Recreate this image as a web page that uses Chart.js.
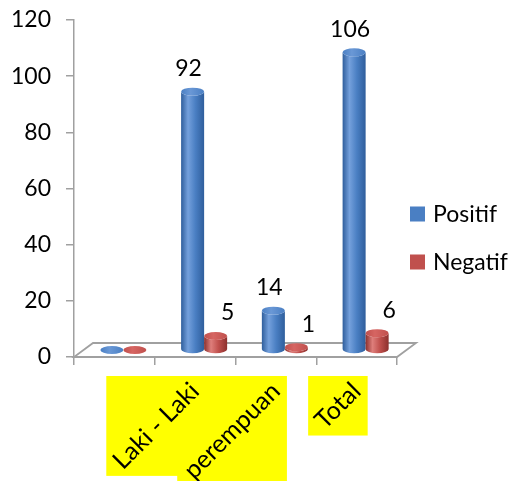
<!DOCTYPE html>
<html>
<head>
<meta charset="utf-8">
<script src="https://cdn.jsdelivr.net/npm/chart.js@4.4.1/dist/chart.umd.min.js"></script>
<style>
  html, body { margin: 0; padding: 0; background: #ffffff; }
  #wrap { width: 512px; height: 481px; }
</style>
</head>
<body>
<div id="wrap"><canvas id="chart" width="512" height="481"></canvas></div>
<script>
// Data
const categories = ['', 'Laki - Laki', 'perempuan', 'Total'];
const positif = [0, 92, 14, 106];
const negatif = [0, 5, 1, 6];
const seriesNames = ['Positif', 'Negatif'];
const yTickValues = [0, 20, 40, 60, 80, 100, 120];

// Styling
const FONT_FAMILY = 'Lato';
const FONT_SIZE = 23;
const CAT_FONT_SIZE = 25;
const AXIS_GREY = '#a0a0a0';
const FLOOR_DEPTH = { dx: 19, dy: -14 };      // back edge of the floor vs. front edge
const BAR_SHIFT = { dx: 9, dy: -7 };           // columns stand half way into the floor
const ELLIPSE_RY = 4;
const LABEL_LIFT = 23;
const LABEL_SHIFT = [-4, 12];
const LEGEND = { x: 410, y: 214, gap: 48, box: 15, textGap: 8 };

const palettes = [
  { base: '#4a7fc3', light: '#74a0dc', dark: '#2f5e9c', top: '#6a98d6' },
  { base: '#c0504d', light: '#de7e7b', dark: '#8c302d', top: '#d66562' }
];

function bodyGradient(ctx, x0, x1, pal) {
  const g = ctx.createLinearGradient(x0, 0, x1, 0);
  g.addColorStop(0, pal.dark);
  g.addColorStop(0.3, pal.light);
  g.addColorStop(0.62, pal.base);
  g.addColorStop(1, pal.dark);
  return g;
}

function topGradient(ctx, x0, x1, pal) {
  const g = ctx.createLinearGradient(x0, 0, x1, 0);
  g.addColorStop(0, pal.base);
  g.addColorStop(0.4, pal.top);
  g.addColorStop(1, pal.base);
  return g;
}

// Yellow boxes behind the rotated category labels (axis-aligned bounds of each rotated label)
const labelHighlight = {
  id: 'labelHighlight',
  beforeDraw(chart) {
    const scale = chart.scales.x;
    const ctx = chart.ctx;
    const items = scale.getLabelItems();
    ctx.save();
    ctx.fillStyle = '#ffff00';
    items.forEach(item => {
      const text = Array.isArray(item.label) ? item.label.join(' ') : String(item.label);
      if (!text) return;
      const o = item.options;
      ctx.font = item.font.string;
      const w = ctx.measureText(text).width;
      const h = item.font.lineHeight;
      let x0, x1, y0, y1;
      if (o.textAlign === 'right') { x0 = -w; x1 = 0; }
      else if (o.textAlign === 'center') { x0 = -w / 2; x1 = w / 2; }
      else { x0 = 0; x1 = w; }
      const t = item.textOffset;
      if (o.textBaseline === 'middle') { y0 = t - h / 2; y1 = t + h / 2; }
      else if (o.textBaseline === 'bottom') { y0 = t - h; y1 = t; }
      else { y0 = t; y1 = t + h; }
      const r = o.rotation || 0;
      const c = Math.cos(r), s = Math.sin(r);
      const [tx, ty] = o.translation;
      const pts = [[x0, y0], [x1, y0], [x1, y1], [x0, y1]].map(([px, py]) => [tx + px * c - py * s, ty + px * s + py * c]);
      const xs = pts.map(p => p[0]), ys = pts.map(p => p[1]);
      const minX = Math.min(...xs), maxX = Math.max(...xs), minY = Math.min(...ys), maxY = Math.max(...ys);
      ctx.fillRect(minX, minY, maxX - minX, maxY - minY);
    });
    ctx.restore();
  }
};

// Floor slab under the columns
const floor = {
  id: 'floor',
  beforeDatasetsDraw(chart) {
    const { left, right, bottom } = chart.chartArea;
    const ctx = chart.ctx;
    ctx.save();
    ctx.beginPath();
    ctx.moveTo(left, bottom);
    ctx.lineTo(right, bottom);
    ctx.lineTo(right + FLOOR_DEPTH.dx, bottom + FLOOR_DEPTH.dy);
    ctx.lineTo(left + FLOOR_DEPTH.dx, bottom + FLOOR_DEPTH.dy);
    ctx.closePath();
    ctx.fillStyle = '#ffffff';
    ctx.fill();
    ctx.strokeStyle = AXIS_GREY;
    ctx.lineWidth = 1.8;
    ctx.stroke();
    ctx.restore();
  }
};

// Cylindrical columns and their value labels
const cylinders = {
  id: 'cylinders',
  beforeDatasetDraw() { return false; },
  afterDatasetsDraw(chart) {
    const ctx = chart.ctx;
    const metas = chart.data.datasets.map((d, i) => chart.getDatasetMeta(i));
    const n = chart.data.labels.length;
    for (let i = 0; i < n; i++) {
      metas.forEach((meta, di) => {
        const bar = meta.data[i];
        const p = bar.getProps(['x', 'y', 'base', 'width'], true);
        const pal = palettes[di];
        const cx = p.x + BAR_SHIFT.dx;
        const top = p.y + BAR_SHIFT.dy;
        const bottom = p.base + BAR_SHIFT.dy;
        const rx = p.width / 2;
        const ry = ELLIPSE_RY;
        ctx.save();
        if (bottom - top > 0.5) {
          ctx.beginPath();
          ctx.moveTo(cx - rx, top);
          ctx.lineTo(cx - rx, bottom);
          ctx.ellipse(cx, bottom, rx, ry, 0, Math.PI, 0, true);
          ctx.lineTo(cx + rx, top);
          ctx.ellipse(cx, top, rx, ry, 0, 0, Math.PI, false);
          ctx.closePath();
          ctx.fillStyle = bodyGradient(ctx, cx - rx, cx + rx, pal);
          ctx.fill();
        }
        ctx.beginPath();
        ctx.ellipse(cx, top, rx, ry, 0, 0, Math.PI * 2);
        ctx.fillStyle = topGradient(ctx, cx - rx, cx + rx, pal);
        ctx.fill();
        ctx.restore();
      });
    }
    // value labels
    ctx.save();
    ctx.font = FONT_SIZE + 'px ' + FONT_FAMILY;
    ctx.fillStyle = '#000000';
    ctx.textAlign = 'center';
    ctx.textBaseline = 'middle';
    metas.forEach((meta, di) => {
      const values = chart.data.datasets[di].data;
      meta.data.forEach((bar, i) => {
        if (!chart.data.labels[i]) return;
        const p = bar.getProps(['x', 'y'], true);
        ctx.fillText(String(values[i]), p.x + BAR_SHIFT.dx + LABEL_SHIFT[di], p.y + BAR_SHIFT.dy - LABEL_LIFT);
      });
    });
    ctx.restore();
  }
};

// Legend on the right
const sideLegend = {
  id: 'sideLegend',
  afterDraw(chart) {
    const ctx = chart.ctx;
    ctx.save();
    ctx.font = FONT_SIZE + 'px ' + FONT_FAMILY;
    ctx.textBaseline = 'middle';
    ctx.textAlign = 'left';
    chart.data.datasets.forEach((ds, i) => {
      const cy = LEGEND.y + i * LEGEND.gap;
      ctx.fillStyle = palettes[i].base;
      ctx.fillRect(LEGEND.x, cy - LEGEND.box / 2, LEGEND.box, LEGEND.box);
      ctx.fillStyle = '#000000';
      ctx.fillText(ds.label, LEGEND.x + LEGEND.box + LEGEND.textGap, cy + 1);
    });
    ctx.restore();
  }
};

new Chart(document.getElementById('chart'), {
  type: 'bar',
  data: {
    labels: categories,
    datasets: [
      { label: seriesNames[0], data: positif, backgroundColor: palettes[0].base },
      { label: seriesNames[1], data: negatif, backgroundColor: palettes[1].base }
    ]
  },
  options: {
    responsive: false,
    animation: false,
    devicePixelRatio: 1,
    categoryPercentage: 0.57,
    barPercentage: 1,
    layout: { padding: { top: 20, right: 115, left: 0, bottom: 0 } },
    plugins: {
      legend: { display: false },
      tooltip: { enabled: false }
    },
    scales: {
      x: {
        grid: { display: true, drawOnChartArea: false, drawTicks: true, tickLength: 8, color: AXIS_GREY, lineWidth: 1.5, offset: true },
        border: { display: false },
        ticks: {
          autoSkip: false, minRotation: 45, maxRotation: 45, padding: 11,
          color: '#000000', font: { family: FONT_FAMILY, size: CAT_FONT_SIZE, lineHeight: 1.25 }
        },
        afterFit(scale) {
          scale.height = 124;
          scale.paddingLeft = 0;
          scale.paddingRight = 0;
        }
      },
      y: {
        min: 0, max: 120,
        afterBuildTicks(scale) { scale.ticks = yTickValues.map(v => ({ value: v })); },
        grid: { display: true, drawOnChartArea: false, drawTicks: true, tickLength: 8, color: AXIS_GREY, lineWidth: 1.5 },
        border: { display: true, color: AXIS_GREY, width: 1.5 },
        ticks: { padding: 15, color: '#000000', font: { family: FONT_FAMILY, size: FONT_SIZE } },
        afterFit(scale) {
          scale.width = 74;
          scale.paddingTop = 0;
          scale.paddingBottom = 0;
        }
      }
    }
  },
  plugins: [labelHighlight, floor, cylinders, sideLegend]
});
</script>
</body>
</html>
